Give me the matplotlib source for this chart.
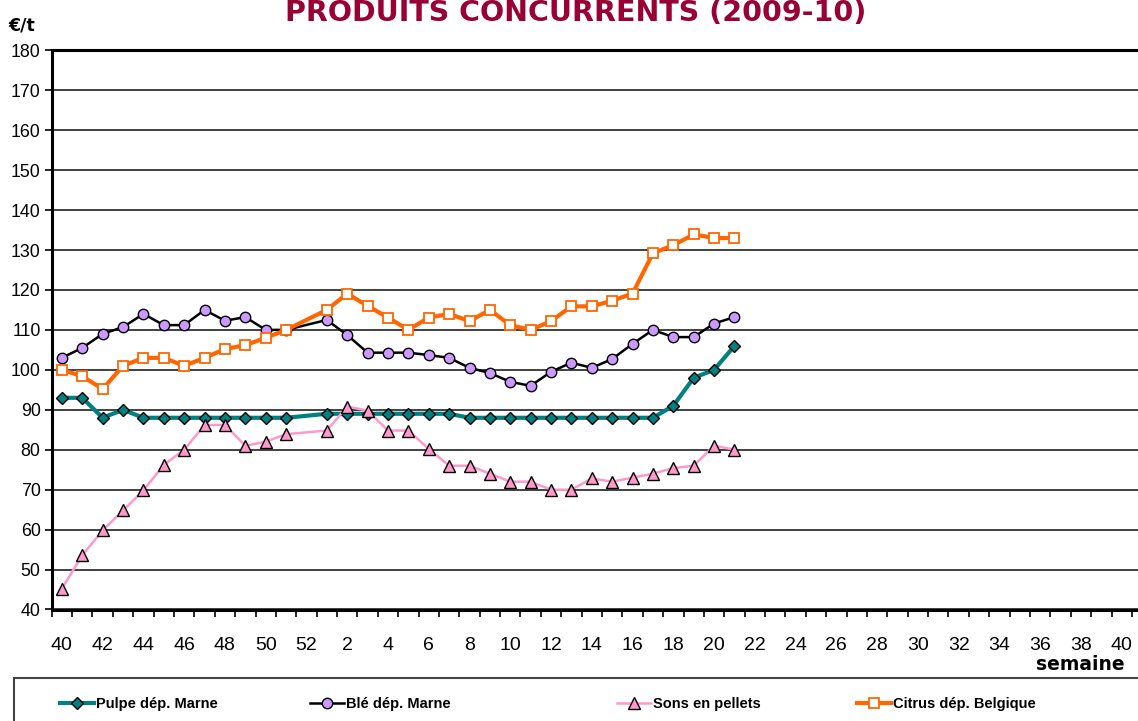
import numpy as np
import matplotlib
matplotlib.use("Agg")
import matplotlib.pyplot as plt
from matplotlib.patches import Rectangle

# semaines : 40..52 (2009) puis 1..40 (2010)
weeks = list(range(40, 53)) + list(range(1, 41))

# prix en EUR/t, une valeur par semaine depuis la semaine 40 (None = pas de cotation)
pulpe = [93, 93, 88, 90, 88, 88, 88, 88, 88, 88, 88, 88, None,
         89, 89, 89, 89, 89, 89, 89, 88, 88, 88, 88, 88, 88, 88, 88, 88, 88,
         91, 98, 100, 106]
ble = [103, 105.5, 109, 110.7, 114, 111.2, 111.2, 115, 112.3, 113.2, 110, 110, None,
       112.5, 108.7, 104.3, 104.3, 104.3, 103.7, 103, 100.5, 99.2, 97, 96, 99.5,
       101.8, 100.5, 102.7, 106.5, 110, 108.2, 108.2, 111.6, 113.2]
sons = [45.2, 53.6, 59.8, 64.8, 69.8, 76.2, 80, 86.2, 86.2, 81, 82, 83.9, None,
        84.8, 90.8, 89.8, 84.8, 84.8, 80.2, 76, 76, 74, 72, 72, 70, 70, 72.8,
        72, 73, 74, 75.4, 76, 81, 80]
citrus = [100, 98.4, 95.2, 101, 103, 103, 101, 103, 105.2, 106.2, 108, 110, None,
          115, 119.1, 116, 113.1, 110, 113.1, 114, 112.2, 115, 111.2, 110, 112.2,
          115.9, 115.9, 117.3, 119.1, 129.2, 131.2, 133.9, 133, 133]

labels = ["Pulpe dép. Marne", "Blé dép. Marne", "Sons en pellets", "Citrus dép. Belgique"]

W, H = 1138, 721
fig = plt.figure(figsize=(W / 100, H / 100), dpi=100)
ax = fig.add_axes([51.7 / W, 1 - 609.5 / H, 1 - 51.7 / W, (609.5 - 50.3) / H])


def series(vals):
    x = np.array([i for i, v in enumerate(vals) if v is not None])
    y = np.array([v for v in vals if v is not None])
    return x, y


styles = [
    dict(color="#008080", lw=3.0, marker="D", ms=6, mfc="#008080", mec="black", mew=1.0),
    dict(color="black", lw=1.8, marker="o", ms=7.5, mfc="#CC99FF", mec="black", mew=1.0),
    dict(color="#FF99CC", lw=1.8, marker="^", ms=8, mfc="#FF99CC", mec="black", mew=1.0),
    dict(color="#FF6600", lw=3.0, marker="s", ms=7.5, mfc="white", mec="#FF6600", mew=1.3),
]

handles = []
for vals, st, lab in zip([pulpe, ble, sons, citrus], styles, labels):
    x, y = series(vals)
    h, = ax.plot(x, y, label=lab, clip_on=False, zorder=3, **st)
    handles.append(h)

ax.set_ylim(40, 180)
ax.set_xlim(-0.5, 52.8)
ax.set_yticks(np.arange(40, 181, 10))
ax.grid(axis="y", color="#333333", lw=1.3)
ax.set_axisbelow(True)

ax.set_xticks(range(0, len(weeks), 2))
ax.set_xticklabels([str(weeks[i]) for i in range(0, len(weeks), 2)],
                   family="Liberation Sans", fontsize=14)
ax.set_xticks(np.arange(-0.5, len(weeks), 1), minor=True)
ax.tick_params(axis="x", which="major", length=0, pad=20)
ax.tick_params(axis="x", which="minor", length=5, width=1.2, direction="out")
ax.tick_params(axis="y", length=5, width=1.2, direction="out", pad=3)
for t in ax.get_yticklabels():
    t.set_family("Liberation Sans")
    t.set_fontsize(12.8)

for side in ["left", "bottom", "top"]:
    ax.spines[side].set_linewidth(2.2)
    ax.spines[side].set_color("black")
ax.spines["right"].set_visible(False)

fig.text(576 / W, 1 - 21 / H, "PRODUITS CONCURRENTS (2009-10)", ha="center", va="baseline",
         fontsize=20.5, fontweight="bold", color="#990033")
fig.text(8 / W, 1 - 31 / H, "€/t", ha="left", va="baseline", fontsize=12.5, fontweight="bold")
fig.text(1125 / W, 1 - 670 / H, "semaine", ha="right", va="baseline", fontsize=13.5,
         fontweight="bold")

# cadre de la légende
fig.patches.append(Rectangle((14 / W, -0.05), 1.1, (1 - 678 / H) + 0.05,
                             transform=fig.transFigure, fill=False,
                             edgecolor="#444444", lw=1.5))
for h, xs in zip(handles, [60, 310, 617, 857]):
    fig.legend(handles=[h], loc="center left", bbox_to_anchor=(xs / W, 1 - 704 / H),
               frameon=False, borderpad=0, borderaxespad=0, handlelength=2.3,
               handletextpad=0.15, numpoints=1,
               prop=dict(family="Liberation Sans", weight="bold", size=10.5))

fig.savefig("out.png", dpi=100)
